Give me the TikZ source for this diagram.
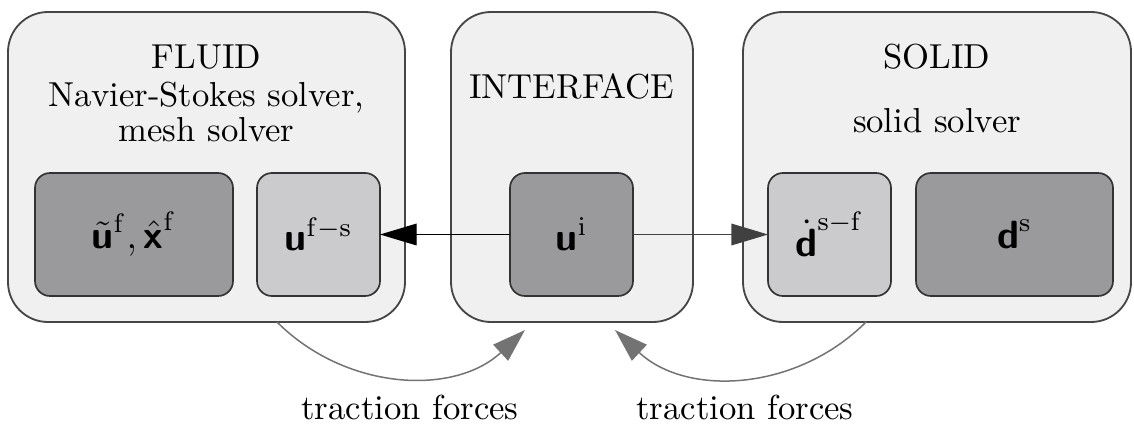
\documentclass[tikz,border=0pt]{standalone}
\usetikzlibrary{arrows.meta}
\definecolor{boxbg}{RGB}{240,240,240}
\definecolor{boxline}{RGB}{70,70,70}
\definecolor{darkfill}{RGB}{154,154,157}
\definecolor{lightfill}{RGB}{203,203,206}
\definecolor{curvegray}{RGB}{115,115,115}
\newcommand{\bsf}[1]{\textsf{\bfseries #1}}
\def\px{0.3pt}
\tikzset{
  outerbox/.style={draw=boxline, fill=boxbg, line width=0.55pt, rounded corners=12pt,
    inner sep=0pt, outer sep=0pt, minimum height=310*\px},
  innerbox/.style={draw=black!80, line width=0.5pt, rounded corners=4.5pt,
    inner sep=0pt, outer sep=0pt, minimum height=123*\px,
    font=\fontsize{11.8}{14}\selectfont},
  darkbox/.style={innerbox, fill=darkfill},
  lightbox/.style={innerbox, fill=lightfill},
  title/.style={anchor=base, inner sep=0pt, font=\fontsize{10.4}{12}\selectfont},
  datalink/.style={line width=0.4pt, -{Triangle[length=11pt,width=6.5pt]}},
  forcelink/.style={draw=curvegray, line width=0.45pt,
    -{Triangle[length=10pt,width=6.5pt,fill=curvegray]}}
}
\begin{document}
\begin{tikzpicture}[x=0.3pt, y=-0.3pt]
\useasboundingbox (0,0) rectangle (1134,429);
% outer boxes
\node[outerbox, minimum width=397*\px] (fluid) at (206.5,167) {};
\node[outerbox, minimum width=242*\px] (interface) at (572,167) {};
\node[outerbox, minimum width=388*\px] (solid) at (937,167) {};
% titles
\node[title] (tfluid) at (206.5,68) {FLUID};
\node[title] (tns) at (206.5,106) {Navier-Stokes solver,};
\node[title] (tmesh) at (206.5,141) {mesh solver};
\node[title] (tint) at (572,98) {INTERFACE};
\node[title] (tsolid) at (937,68) {SOLID};
\node[title] (tss) at (937,132) {solid solver};
% inner boxes
\node[darkbox, minimum width=198*\px] (fd) at (134,234.5)
  {$\tilde{\bsf{u}}^{\mathrm{f}}, \hat{\bsf{x}}^{\mathrm{f}}$};
\node[lightbox, minimum width=123*\px] (fl) at (318.5,234.5)
  {$\bsf{u}^{\mathrm{f-s}}$};
\node[darkbox, minimum width=123*\px] (ui) at (571.5,234.5)
  {$\bsf{u}^{\mathrm{i}}$};
\node[lightbox, minimum width=123*\px] (sl) at (829.5,234.5)
  {$\dot{\bsf{d}}^{\mathrm{s-f}}$};
\node[darkbox, minimum width=197*\px] (sd) at (1014.5,234.5)
  {$\bsf{d}^{\mathrm{s}}$};
% data arrows
\draw[datalink] (ui.west) -- (fl.east);
\draw[datalink, draw=black!75] (ui.east) -- (sl.west);
% traction force curves
\coordinate (c1s) at (277,322);
\coordinate (c1e) at (525,330);
\coordinate (c2s) at (866,322);
\coordinate (c2e) at (615,330);
\draw[forcelink] (c1s) to[out=-45,in=-137] (c1e);
\draw[forcelink] (c2s) to[out=-135,in=-43] (c2e);
\node[title] (l1) at (410,419) {traction forces};
\node[title] (l2) at (745,419) {traction forces};
\end{tikzpicture}
\end{document}
